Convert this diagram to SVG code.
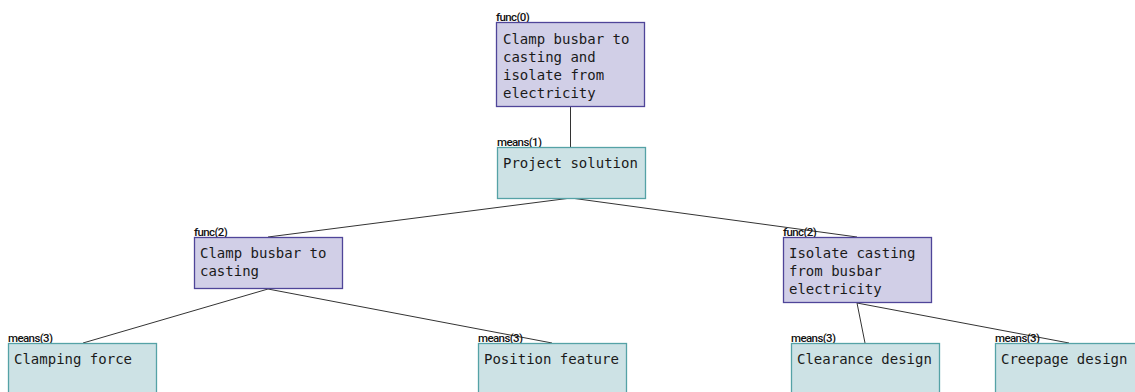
<svg xmlns="http://www.w3.org/2000/svg" width="1135" height="392" viewBox="0 0 1135 392">
<style>
.func{fill:#d1cfe7;stroke:#4f4599;stroke-width:1.3}
.means{fill:#cde2e5;stroke:#55a2a6;stroke-width:1.3}
.t{font-family:"DejaVu Sans Mono","Liberation Mono",monospace;font-size:14px;fill:#1a1a1a}
.lb{font-family:Roboto,"Liberation Sans",sans-serif;font-size:11.5px;font-weight:500;fill:#111;letter-spacing:-0.6px}
.c{stroke:#333;stroke-width:1;fill:none}
</style>
<rect width="1135" height="392" fill="#fff"/>
<g id="connectors">
<line class="c" x1="570.5" y1="107" x2="570.5" y2="147"/>
<line class="c" x1="571" y1="198" x2="268" y2="237"/>
<line class="c" x1="571" y1="198" x2="857" y2="237"/>
<line class="c" x1="268" y1="289" x2="83" y2="343"/>
<line class="c" x1="268" y1="289" x2="552" y2="343"/>
<line class="c" x1="857" y1="303" x2="865" y2="343"/>
<line class="c" x1="857" y1="303" x2="1069" y2="343"/>
</g>
<g id="n0">
<text class="lb" x="496" y="20.5">func(0)</text>
<rect class="func" x="496.5" y="22.5" width="148" height="84"/>
<text class="t" x="503" y="44">Clamp busbar to</text>
<text class="t" x="503" y="62">casting and</text>
<text class="t" x="503" y="80">isolate from</text>
<text class="t" x="503" y="98">electricity</text>
</g>
<g id="n1">
<text class="lb" x="497" y="145.5">means(1)</text>
<rect class="means" x="497.5" y="147.5" width="148" height="51"/>
<text class="t" x="503" y="168">Project solution</text>
</g>
<g id="n2a">
<text class="lb" x="194" y="235.5">func(2)</text>
<rect class="func" x="194.5" y="237.5" width="148" height="51"/>
<text class="t" x="200" y="258">Clamp busbar to</text>
<text class="t" x="200" y="276">casting</text>
</g>
<g id="n2b">
<text class="lb" x="783" y="235.5">func(2)</text>
<rect class="func" x="783.5" y="237.5" width="148" height="65"/>
<text class="t" x="789" y="258">Isolate casting</text>
<text class="t" x="789" y="276">from busbar</text>
<text class="t" x="789" y="294">electricity</text>
</g>
<g id="n3a">
<text class="lb" x="8" y="341.5">means(3)</text>
<rect class="means" x="8.5" y="343.5" width="148" height="51"/>
<text class="t" x="14" y="364">Clamping force</text>
</g>
<g id="n3b">
<text class="lb" x="478" y="341.5">means(3)</text>
<rect class="means" x="478.5" y="343.5" width="148" height="51"/>
<text class="t" x="484" y="364">Position feature</text>
</g>
<g id="n3c">
<text class="lb" x="791" y="341.5">means(3)</text>
<rect class="means" x="791.5" y="343.5" width="148" height="51"/>
<text class="t" x="797" y="364">Clearance design</text>
</g>
<g id="n3d">
<text class="lb" x="995" y="341.5">means(3)</text>
<rect class="means" x="995.5" y="343.5" width="148" height="51"/>
<text class="t" x="1001" y="364">Creepage design</text>
</g>
</svg>
